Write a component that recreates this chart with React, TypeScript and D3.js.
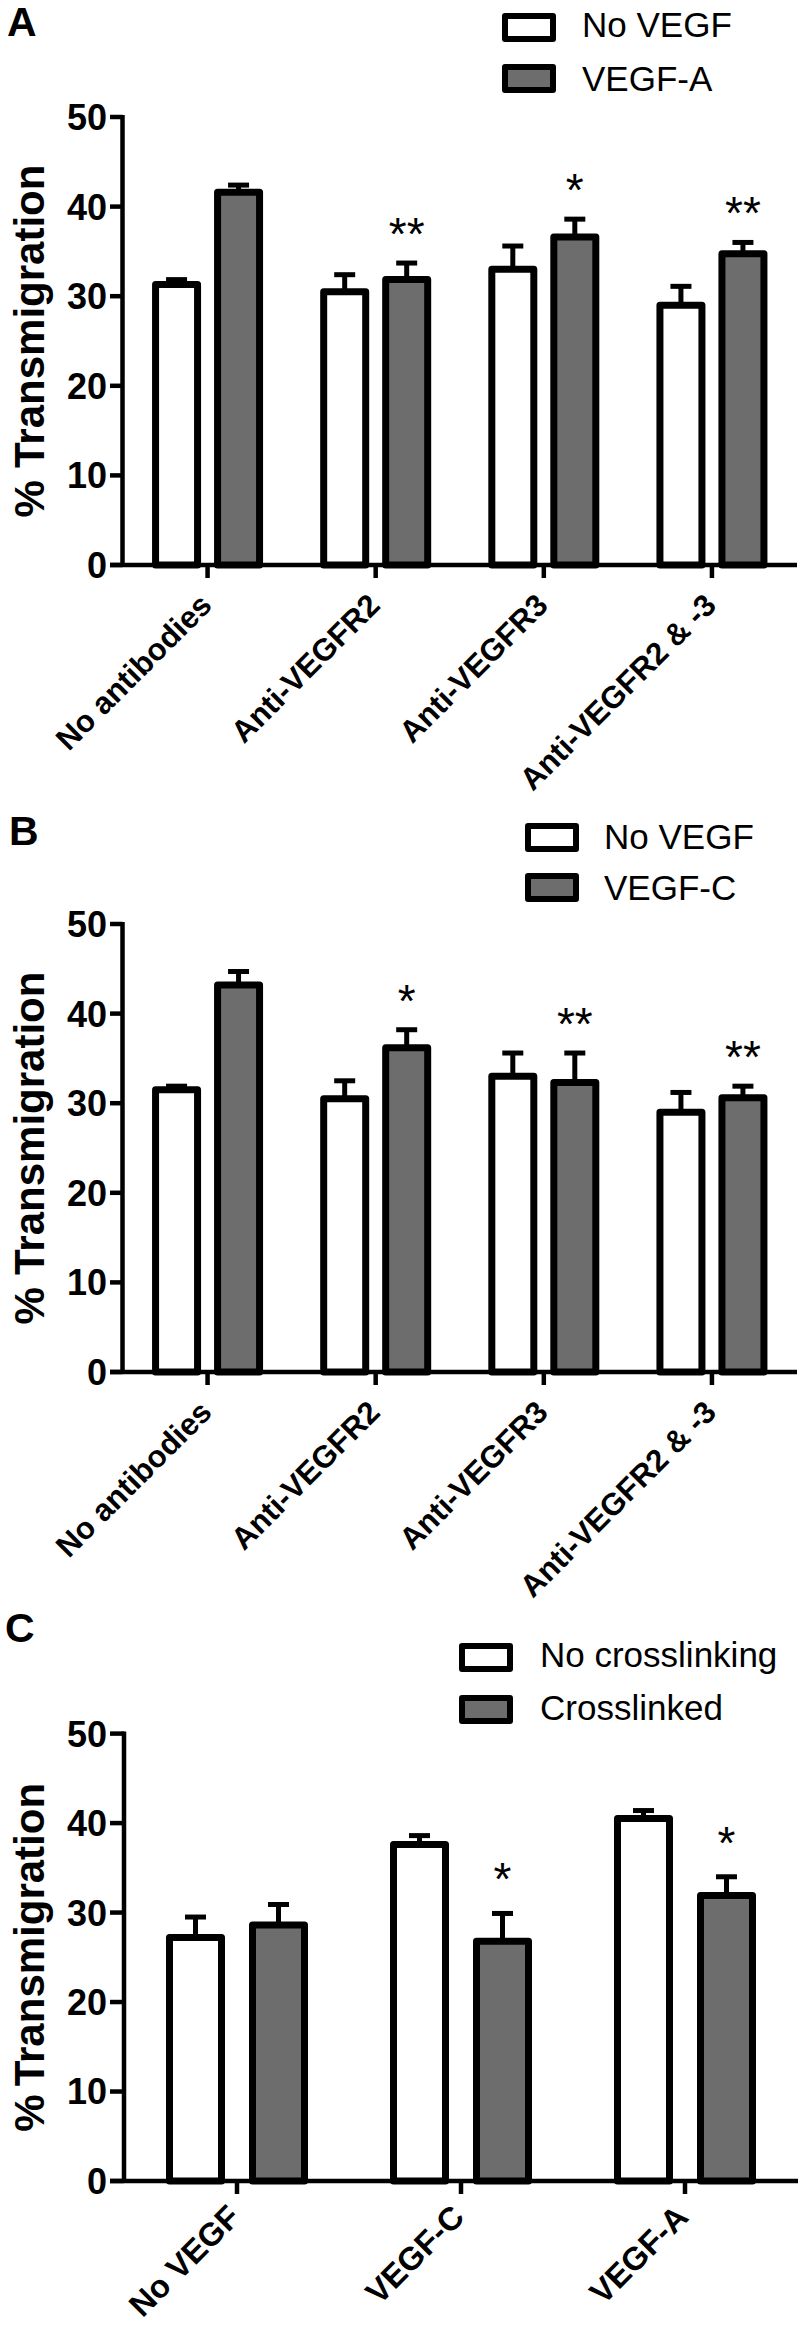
import React from "react";
import * as d3 from "d3";

// ---------- data ----------
const categoriesAB = ["No antibodies", "Anti-VEGFR2", "Anti-VEGFR3", "Anti-VEGFR2 & -3"];
const categoriesC = ["No VEGF", "VEGF-C", "VEGF-A"];

const seriesA = ["No VEGF", "VEGF-A"];
const seriesB = ["No VEGF", "VEGF-C"];
const seriesC = ["No crosslinking", "Crosslinked"];

const aNoVegf = [31.3, 30.5, 33.0, 29.0];
const aNoVegfErr = [0.55, 1.9, 2.6, 2.1];
const aVegfA = [41.6, 31.85, 36.6, 34.75];
const aVegfAErr = [0.8, 1.85, 2.0, 1.25];
const aStars = ["", "**", "*", "**"];

const bNoVegf = [31.5, 30.5, 33.0, 29.0];
const bNoVegfErr = [0.4, 2.0, 2.6, 2.2];
const bVegfC = [43.2, 36.2, 32.3, 30.6];
const bVegfCErr = [1.5, 2.0, 3.3, 1.3];
const bStars = ["", "*", "**", "**"];

const cNoCross = [27.2, 37.6, 40.5];
const cNoCrossErr = [2.3, 1.0, 0.9];
const cCross = [28.6, 26.8, 31.9];
const cCrossErr = [2.3, 3.1, 2.1];
const cStars = ["", "*", "*"];

const yTicks = [0, 10, 20, 30, 40, 50];
const yTitle = "Transmigration";

// ---------- layout ----------
const FONT = "'Liberation Sans', Arial, Helvetica, sans-serif";
const GRAY = "#6d6d6d";

type Panel = {
  letter: string;
  letterX: number;
  letterY: number;
  yTop: number;
  yZero: number;
  axisX: number;
  xEnd: number;
  halfOffset: number;
  barW: number;
  labelFont: number;
  labelDx: number;
  labelDy: number;
  starGap: number;
  titleGap: number;
  legendBoxX: number;
  legendBoxY: [number, number];
  legendTextX: number;
  legendTextY: [number, number];
  categories: string[];
  series: string[];
  values: number[][];
  errors: number[][];
  stars: string[];
};

const panels: Panel[] = [
  {
    letter: "A", letterX: 7, letterY: 36,
    yTop: 117, yZero: 565, axisX: 122.5, xEnd: 797,
    halfOffset: 31, barW: 42, labelFont: 31, labelDx: 6, labelDy: 42, starGap: 39, titleGap: 12,
    legendBoxX: 505, legendBoxY: [16, 67], legendTextX: 582, legendTextY: [37, 90.5],
    categories: categoriesAB, series: seriesA,
    values: [aNoVegf, aVegfA], errors: [aNoVegfErr, aVegfAErr], stars: aStars,
  },
  {
    letter: "B", letterX: 9, letterY: 845,
    yTop: 924, yZero: 1372, axisX: 122.5, xEnd: 797,
    halfOffset: 31, barW: 42, labelFont: 31, labelDx: 6, labelDy: 42, starGap: 39, titleGap: 12,
    legendBoxX: 528, legendBoxY: [826, 876], legendTextX: 604, legendTextY: [848.5, 899.5],
    categories: categoriesAB, series: seriesB,
    values: [bNoVegf, bVegfC], errors: [bNoVegfErr, bVegfCErr], stars: bStars,
  },
  {
    letter: "C", letterX: 5, letterY: 1642,
    yTop: 1733.6, yZero: 2181, axisX: 124, xEnd: 798,
    halfOffset: 41.5, barW: 52, labelFont: 32.5, labelDx: 5, labelDy: 38, starGap: 44, titleGap: 8,
    legendBoxX: 462, legendBoxY: [1646, 1698], legendTextX: 540, legendTextY: [1666.5, 1720],
    categories: categoriesC, series: seriesC,
    values: [cNoCross, cCross], errors: [cNoCrossErr, cCrossErr], stars: cStars,
  },
];

const fills = ["#ffffff", GRAY];

function PanelChart({ p }: { p: Panel }) {
  const y = d3.scaleLinear().domain([0, 50]).range([p.yZero, p.yTop]);
  const x = d3.scaleBand<string>().domain(p.categories).range([p.axisX + 1, p.xEnd - 1]);
  const sub = d3.scalePoint<number>().domain([0, 1]).range([-p.halfOffset, p.halfOffset]);
  const cx = (c: string) => (x(c) as number) + x.bandwidth() / 2;
  const midY = (p.yTop + p.yZero) / 2;

  return (
    <g>
      {/* panel letter */}
      <text x={p.letterX} y={p.letterY} fontFamily={FONT} fontWeight="bold" fontSize={41} fill="#000">
        {p.letter}
      </text>

      {/* legend */}
      {p.series.map((s, i) => (
        <g key={s}>
          <rect x={p.legendBoxX} y={p.legendBoxY[i]} width={48} height={23} fill={fills[i]} stroke="#000" strokeWidth={6} strokeLinejoin="round" />
          <text x={p.legendTextX} y={p.legendTextY[i]} fontFamily={FONT} fontSize={35} fill="#000">
            {s}
          </text>
        </g>
      ))}

      {/* y axis title */}
      <text
        transform={`translate(44,${midY}) rotate(-90)`}
        textAnchor="middle"
        fontFamily={FONT}
        fontWeight="bold"
        fontSize={42}
        fill="#000"
      >
        %<tspan dx={p.titleGap}>{yTitle}</tspan>
      </text>

      {/* error bars (drawn under bars) */}
      {p.series.map((s, si) =>
        p.categories.map((c, ci) => {
          const bx = cx(c) + (sub(si) as number);
          const v = p.values[si][ci];
          const e = p.errors[si][ci];
          return (
            <g key={`e-${s}-${c}`}>
              <line x1={bx} x2={bx} y1={y(v)} y2={y(v + e)} stroke="#000" strokeWidth={5} />
              <line x1={bx - 10.5} x2={bx + 10.5} y1={y(v + e)} y2={y(v + e)} stroke="#000" strokeWidth={5} />
            </g>
          );
        })
      )}

      {/* bars */}
      {p.series.map((s, si) =>
        p.categories.map((c, ci) => {
          const bx = cx(c) + (sub(si) as number);
          const v = p.values[si][ci];
          return (
            <rect
              key={`b-${s}-${c}`}
              x={bx - p.barW / 2}
              y={y(v)}
              width={p.barW}
              height={p.yZero - y(v)}
              fill={fills[si]}
              stroke="#000"
              strokeWidth={7}
              strokeLinejoin="round"
            />
          );
        })
      )}

      {/* significance stars */}
      {p.categories.map((c, ci) => {
        const st = p.stars[ci];
        if (!st) return null;
        const bx = cx(c) + (sub(1) as number);
        const top = y(p.values[1][ci] + p.errors[1][ci]);
        return (
          <text
            key={`s-${c}`}
            x={bx}
            y={top - p.starGap + 26}
            textAnchor="middle"
            fontFamily={FONT}
            fontSize={46}
            fill="#000"
          >
            {st}
          </text>
        );
      })}

      {/* y axis */}
      <line x1={p.axisX} x2={p.axisX} y1={p.yTop - 2} y2={p.yZero + 2} stroke="#000" strokeWidth={4.5} />
      {yTicks.map((t) => (
        <g key={`yt-${t}`}>
          <line x1={110} x2={p.axisX} y1={y(t)} y2={y(t)} stroke="#000" strokeWidth={4.5} />
          <text
            x={107}
            y={y(t)}
            dy="0.36em"
            textAnchor="end"
            fontFamily={FONT}
            fontWeight="bold"
            fontSize={36}
            fill="#000"
          >
            {t}
          </text>
        </g>
      ))}

      {/* x axis */}
      <line x1={110} x2={p.xEnd} y1={p.yZero} y2={p.yZero} stroke="#000" strokeWidth={4.5} />
      {p.categories.map((c) => (
        <g key={`xt-${c}`}>
          <line x1={cx(c)} x2={cx(c)} y1={p.yZero} y2={p.yZero + 13} stroke="#000" strokeWidth={4.5} />
          <text
            transform={`translate(${cx(c) + p.labelDx},${p.yZero + p.labelDy}) rotate(-45)`}
            textAnchor="end"
            fontFamily={FONT}
            fontWeight="bold"
            fontSize={p.labelFont}
            fill="#000"
          >
            {c}
          </text>
        </g>
      ))}
    </g>
  );
}

export default function App() {
  return (
    <svg
      width={800}
      height={2327}
      viewBox="0 0 800 2327"
      style={{ position: "absolute", left: 0, top: 0, background: "#fff" }}
    >
      <rect x={0} y={0} width={800} height={2327} fill="#fff" />
      {panels.map((p) => (
        <PanelChart key={p.letter} p={p} />
      ))}
    </svg>
  );
}
